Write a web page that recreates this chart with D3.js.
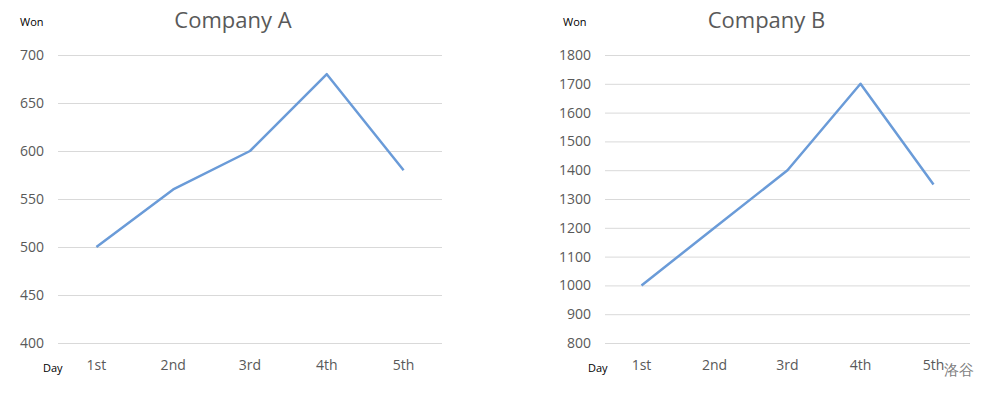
<!DOCTYPE html>
<html>
<head>
<meta charset="utf-8">
<script src="https://cdn.jsdelivr.net/npm/d3@7"></script>
<style>
    body { margin: 0; background: #fff; }
    text { font-family: "Open Sans", "Noto Sans", sans-serif; }
</style>
</head>
<body>
<div id="chart"></div>
<script>
    const days = ["1st", "2nd", "3rd", "4th", "5th"];
    const companyA = [500, 560, 600, 680, 580];
    const companyB = [1000, 1200, 1400, 1700, 1350];
    const ticksA = [400, 450, 500, 550, 600, 650, 700];
    const ticksB = [800, 900, 1000, 1100, 1200, 1300, 1400, 1500, 1600, 1700, 1800];

    const width = 989, height = 393;
    const svg = d3.select("#chart").append("svg").attr("width", width).attr("height", height);

    function drawPanel(opt) {
        const g = svg.append("g");
        const x = d3.scaleBand().domain(days).range([opt.left, opt.right]);
        const y = d3.scaleLinear().domain([opt.ticks[0], opt.ticks[opt.ticks.length - 1]]).range([343, 55]);

        // gridlines + tick labels
        const yAxis = d3.axisLeft(y).tickValues(opt.ticks).tickFormat(d3.format("d"))
            .tickSize(opt.left - opt.right).tickPadding(14);
        const ya = g.append("g").attr("transform", `translate(${opt.left},0)`).call(yAxis);
        ya.select(".domain").remove();
        ya.selectAll("line").attr("stroke", "#d9d9d9").attr("stroke-width", 1);
        ya.selectAll("text").attr("fill", "#595959").attr("font-size", 14)
            .attr("x", opt.labelX - opt.left);

        const xAxis = d3.axisBottom(x).tickSize(0).tickPadding(0);
        const xa = g.append("g").attr("transform", "translate(0,366)").call(xAxis);
        xa.select(".domain").remove();
        xa.selectAll("text").attr("fill", "#595959").attr("font-size", 14).attr("dy", "0.32em");

        const line = d3.line().x((d, i) => x(days[i]) + x.bandwidth() / 2).y(d => y(d));
        g.append("path").datum(opt.values).attr("d", line)
            .attr("fill", "none").attr("stroke", "#6a9bd8").attr("stroke-width", 2.5)
            .attr("stroke-linejoin", "round");

        g.append("text").attr("x", (opt.left + opt.right) / 2 - opt.titleShift).attr("y", 28)
            .attr("text-anchor", "middle").attr("font-size", 22).attr("fill", "#595959").text(opt.title);
        g.append("text").attr("x", opt.wonX).attr("y", 26).attr("font-size", 11).attr("fill", "#000").text("Won");
        g.append("text").attr("x", opt.dayX).attr("y", 372).attr("font-size", 11).attr("fill", "#000").text("Day");
    }

    drawPanel({title: "Company A", values: companyA, ticks: ticksA, left: 58, right: 442,
        labelX: 44, wonX: 20, dayX: 43, titleShift: 17});
    drawPanel({title: "Company B", values: companyB, ticks: ticksB, left: 605, right: 970,
        labelX: 591, wonX: 563, dayX: 588, titleShift: 21});

    svg.append("text").attr("x", 944).attr("y", 375).attr("font-size", 15)
        .attr("font-family", "Noto Sans CJK SC").attr("fill", "#7f7f7f").text("洛谷");
</script>
</body>
</html>
